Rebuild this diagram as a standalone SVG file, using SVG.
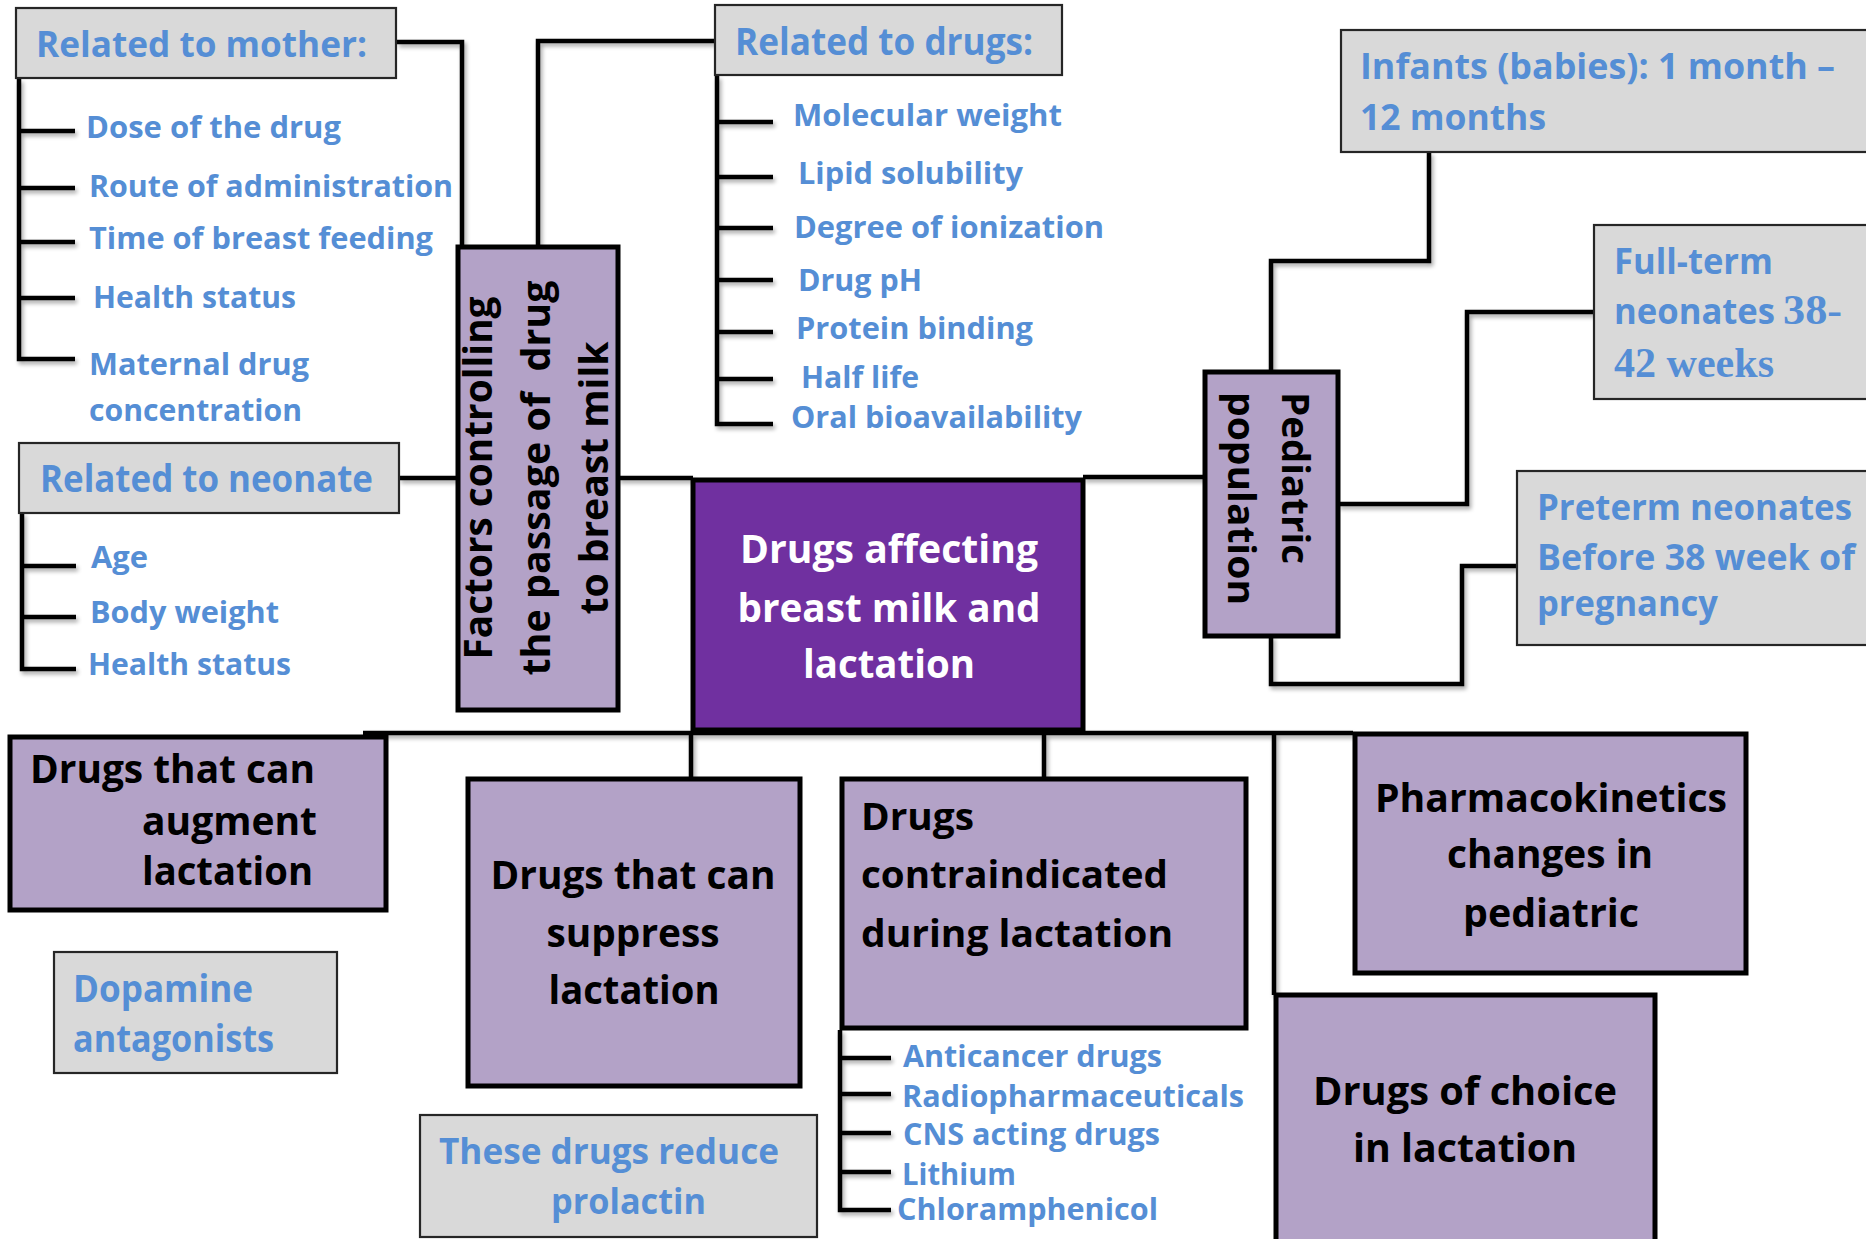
<svg xmlns="http://www.w3.org/2000/svg" width="1866" height="1239" viewBox="0 0 1866 1239">
<defs>
<style>
.gbox{fill:#d9d9d9;stroke:#262626;stroke-width:2.2}
.pbox{fill:#b3a2c7;stroke:#000;stroke-width:5}
.cbox{fill:#7030a0;stroke:#000;stroke-width:5}
.ln{fill:none;stroke:#000;stroke-width:4.5;stroke-linejoin:miter;stroke-linecap:butt}
.cal{font-family:"Open Sans","Liberation Sans",sans-serif;font-weight:700;fill:#558ed5}
.seg{font-family:"Open Sans","Liberation Sans",sans-serif;font-weight:700}
.ser{font-family:"Liberation Serif","Times New Roman",serif;font-weight:700;fill:#558ed5}
.blue{fill:#558ed5}
.blk{fill:#000}
.wht{fill:#fff}
</style>
<filter id="shadow" x="-5%" y="-5%" width="110%" height="110%">
  <feGaussianBlur in="SourceAlpha" stdDeviation="2"/>
  <feOffset dx="2" dy="3" result="b"/>
  <feComponentTransfer><feFuncA type="linear" slope="0.35"/></feComponentTransfer>
  <feMerge><feMergeNode/><feMergeNode in="SourceGraphic"/></feMerge>
</filter>
</defs>
<rect width="1866" height="1239" fill="#fff"/>

<g id="connectors" filter="url(#shadow)">
  <path class="ln" d="M397,42 H462 V247"/>
  <path class="ln" d="M538,247 V41 H715"/>
  <path class="ln" d="M399,478 H458"/>
  <path class="ln" d="M618,478 H693"/>
  <path class="ln" d="M1083,477 H1205"/>
  <path class="ln" d="M1429,152 V261 H1271 V372"/>
  <path class="ln" d="M1338,504 H1467 V312 H1594"/>
  <path class="ln" d="M1271,636 V684 H1462 V566 H1517"/>
  <path class="ln" d="M363,733 H1353"/>
  <path class="ln" d="M691,733 V779"/>
  <path class="ln" d="M1044,733 V779"/>
  <path class="ln" d="M1274,733 V995"/>
  <path class="ln" d="M19,79 V359 H75 M19,131 H75 M19,188 H75 M19,242 H75 M19,298 H75"/>
  <path class="ln" d="M22,513 V669 H76 M22,566 H76 M22,617 H76"/>
  <path class="ln" d="M717,76 V424 H773 M717,122 H773 M717,177 H773 M717,228 H773 M717,280 H773 M717,332 H773 M717,379 H773"/>
  <path class="ln" d="M840,1030 V1210 H891 M840,1058 H891 M840,1094 H891 M840,1133 H891 M840,1172 H891"/>
</g>

<g id="mother">
  <rect class="gbox" x="16" y="8" width="380" height="70"/>
  <text class="cal" x="36" y="57" font-size="36" textLength="331" lengthAdjust="spacingAndGlyphs">Related to mother:</text>
  <text class="cal" x="86" y="138" font-size="31" textLength="255" lengthAdjust="spacingAndGlyphs">Dose of the drug</text>
  <text class="cal" x="89" y="197" font-size="31" textLength="364" lengthAdjust="spacingAndGlyphs">Route of administration</text>
  <text class="cal" x="89" y="249" font-size="31" textLength="344" lengthAdjust="spacingAndGlyphs">Time of breast feeding</text>
  <text class="cal" x="93" y="308" font-size="31" textLength="203" lengthAdjust="spacingAndGlyphs">Health status</text>
  <text class="cal" x="89" y="375" font-size="31" textLength="220" lengthAdjust="spacingAndGlyphs">Maternal drug</text>
  <text class="cal" x="89" y="421" font-size="31" textLength="213" lengthAdjust="spacingAndGlyphs">concentration</text>
</g>

<g id="neonate">
  <rect class="gbox" x="19" y="443" width="380" height="70"/>
  <text class="cal" x="40" y="492" font-size="37" textLength="333" lengthAdjust="spacingAndGlyphs">Related to neonate</text>
  <text class="cal" x="91" y="568" font-size="30" textLength="57" lengthAdjust="spacingAndGlyphs">Age</text>
  <text class="cal" x="90" y="623" font-size="30" textLength="189" lengthAdjust="spacingAndGlyphs">Body weight</text>
  <text class="cal" x="88" y="675" font-size="30" textLength="203" lengthAdjust="spacingAndGlyphs">Health status</text>
</g>

<g id="drugs">
  <rect class="gbox" x="715" y="5" width="347" height="70"/>
  <text class="cal" x="735" y="55" font-size="37" textLength="298" lengthAdjust="spacingAndGlyphs">Related to drugs:</text>
  <text class="cal" x="793" y="126" font-size="31" textLength="269" lengthAdjust="spacingAndGlyphs">Molecular weight</text>
  <text class="cal" x="798" y="184" font-size="31" textLength="225" lengthAdjust="spacingAndGlyphs">Lipid solubility</text>
  <text class="cal" x="794" y="238" font-size="31" textLength="310" lengthAdjust="spacingAndGlyphs">Degree of ionization</text>
  <text class="cal" x="798" y="291" font-size="31" textLength="124" lengthAdjust="spacingAndGlyphs">Drug pH</text>
  <text class="cal" x="796" y="339" font-size="31" textLength="237" lengthAdjust="spacingAndGlyphs">Protein binding</text>
  <text class="cal" x="801" y="388" font-size="31" textLength="118" lengthAdjust="spacingAndGlyphs">Half life</text>
  <text class="cal" x="791" y="428" font-size="31" textLength="291" lengthAdjust="spacingAndGlyphs">Oral bioavailability</text>
</g>

<g id="factors">
  <rect class="pbox" x="458" y="247" width="160" height="463"/>
  <text class="seg blk" transform="translate(492,478) rotate(-90)" text-anchor="middle" font-size="38.5" textLength="363" lengthAdjust="spacingAndGlyphs">Factors controlling</text>
  <text class="seg blk" transform="translate(550,478) rotate(-90)" text-anchor="middle" font-size="38.5" textLength="395" lengthAdjust="spacingAndGlyphs" xml:space="preserve">the passage of  drug</text>
  <text class="seg blk" transform="translate(608,478) rotate(-90)" text-anchor="middle" font-size="38.5" textLength="273" lengthAdjust="spacingAndGlyphs">to breast milk</text>
</g>

<g id="central">
  <rect class="cbox" x="693" y="480" width="390" height="250"/>
  <text class="seg wht" x="889" y="563" text-anchor="middle" font-size="39" textLength="298" lengthAdjust="spacingAndGlyphs">Drugs affecting</text>
  <text class="seg wht" x="889" y="622" text-anchor="middle" font-size="39" textLength="303" lengthAdjust="spacingAndGlyphs">breast milk and</text>
  <text class="seg wht" x="889" y="678" text-anchor="middle" font-size="39" textLength="172" lengthAdjust="spacingAndGlyphs">lactation</text>
</g>

<g id="pediatric">
  <rect class="pbox" x="1205" y="372" width="133" height="264"/>
  <text class="seg blk" transform="translate(1282,392) rotate(90)" font-size="38" textLength="172" lengthAdjust="spacingAndGlyphs">Pediatric</text>
  <text class="seg blk" transform="translate(1228,392) rotate(90)" font-size="38" textLength="213" lengthAdjust="spacingAndGlyphs">population</text>
</g>

<g id="infants">
  <rect class="gbox" x="1341" y="30" width="540" height="122"/>
  <text class="seg blue" x="1360" y="79" font-size="36" textLength="475" lengthAdjust="spacingAndGlyphs">Infants (babies): 1 month –</text>
  <text class="seg blue" x="1360" y="130" font-size="36" textLength="186" lengthAdjust="spacingAndGlyphs">12 months</text>
</g>

<g id="fullterm">
  <rect class="gbox" x="1594" y="225" width="290" height="174"/>
  <text class="seg blue" x="1614" y="274" font-size="35" textLength="159" lengthAdjust="spacingAndGlyphs">Full-term</text>
  <text class="seg blue" x="1614" y="324" font-size="35" textLength="161" lengthAdjust="spacingAndGlyphs">neonates</text>
  <text class="ser" x="1783" y="324" font-size="43" textLength="59" lengthAdjust="spacingAndGlyphs">38-</text>
  <text class="ser" x="1614" y="377" font-size="43" textLength="160" lengthAdjust="spacingAndGlyphs">42 weeks</text>
</g>

<g id="preterm">
  <rect class="gbox" x="1517" y="471" width="360" height="174"/>
  <text class="seg blue" x="1537" y="520" font-size="35" textLength="315" lengthAdjust="spacingAndGlyphs">Preterm neonates</text>
  <text class="seg blue" x="1537" y="570" font-size="35" textLength="318" lengthAdjust="spacingAndGlyphs">Before 38 week of</text>
  <text class="seg blue" x="1537" y="616" font-size="35" textLength="181" lengthAdjust="spacingAndGlyphs">pregnancy</text>
</g>

<g id="augment">
  <rect class="pbox" x="10" y="737" width="376" height="173"/>
  <text class="seg blk" x="30" y="783" font-size="39" textLength="285" lengthAdjust="spacingAndGlyphs">Drugs that can</text>
  <text class="seg blk" x="142" y="835" font-size="39" textLength="175" lengthAdjust="spacingAndGlyphs">augment</text>
  <text class="seg blk" x="142" y="885" font-size="39" textLength="171" lengthAdjust="spacingAndGlyphs">lactation</text>
</g>

<g id="dopamine">
  <rect class="gbox" x="54" y="952" width="283" height="121"/>
  <text class="cal" x="73" y="1002" font-size="37" textLength="180" lengthAdjust="spacingAndGlyphs">Dopamine</text>
  <text class="cal" x="73" y="1052" font-size="37" textLength="201" lengthAdjust="spacingAndGlyphs">antagonists</text>
</g>

<g id="suppress">
  <rect class="pbox" x="468" y="779" width="332" height="307"/>
  <text class="seg blk" x="633" y="889" text-anchor="middle" font-size="39" textLength="285" lengthAdjust="spacingAndGlyphs">Drugs that can</text>
  <text class="seg blk" x="633" y="947" text-anchor="middle" font-size="39" textLength="173" lengthAdjust="spacingAndGlyphs">suppress</text>
  <text class="seg blk" x="634" y="1004" text-anchor="middle" font-size="39" textLength="171" lengthAdjust="spacingAndGlyphs">lactation</text>
</g>

<g id="prolactin">
  <rect class="gbox" x="420" y="1115" width="397" height="122"/>
  <text class="cal" x="439" y="1164" font-size="36" textLength="340" lengthAdjust="spacingAndGlyphs">These drugs reduce</text>
  <text class="cal" x="551" y="1214" font-size="36" textLength="155" lengthAdjust="spacingAndGlyphs">prolactin</text>
</g>

<g id="contraindicated">
  <rect class="pbox" x="842" y="779" width="404" height="249"/>
  <text class="seg blk" x="861" y="830" font-size="37.5" textLength="113" lengthAdjust="spacingAndGlyphs">Drugs</text>
  <text class="seg blk" x="861" y="888" font-size="37.5" textLength="307" lengthAdjust="spacingAndGlyphs">contraindicated</text>
  <text class="seg blk" x="861" y="947" font-size="37.5" textLength="312" lengthAdjust="spacingAndGlyphs">during lactation</text>
  <text class="cal" x="903" y="1067" font-size="31" textLength="259" lengthAdjust="spacingAndGlyphs">Anticancer drugs</text>
  <text class="cal" x="902" y="1107" font-size="31" textLength="342" lengthAdjust="spacingAndGlyphs">Radiopharmaceuticals</text>
  <text class="cal" x="903" y="1145" font-size="31" textLength="257" lengthAdjust="spacingAndGlyphs">CNS acting drugs</text>
  <text class="cal" x="902" y="1185" font-size="31" textLength="114" lengthAdjust="spacingAndGlyphs">Lithium</text>
  <text class="cal" x="897" y="1220" font-size="31" textLength="261" lengthAdjust="spacingAndGlyphs">Chloramphenicol</text>
</g>

<g id="pharmacokinetics">
  <rect class="pbox" x="1355" y="734" width="391" height="239"/>
  <text class="seg blk" x="1551" y="812" text-anchor="middle" font-size="39" textLength="352" lengthAdjust="spacingAndGlyphs">Pharmacokinetics</text>
  <text class="seg blk" x="1550" y="868" text-anchor="middle" font-size="39" textLength="206" lengthAdjust="spacingAndGlyphs">changes in</text>
  <text class="seg blk" x="1551" y="927" text-anchor="middle" font-size="39" textLength="176" lengthAdjust="spacingAndGlyphs">pediatric</text>
</g>

<g id="choice">
  <rect class="pbox" x="1276" y="995" width="379" height="260"/>
  <text class="seg blk" x="1465" y="1105" text-anchor="middle" font-size="39" textLength="304" lengthAdjust="spacingAndGlyphs">Drugs of choice</text>
  <text class="seg blk" x="1465" y="1162" text-anchor="middle" font-size="39" textLength="224" lengthAdjust="spacingAndGlyphs">in lactation</text>
</g>
</svg>
